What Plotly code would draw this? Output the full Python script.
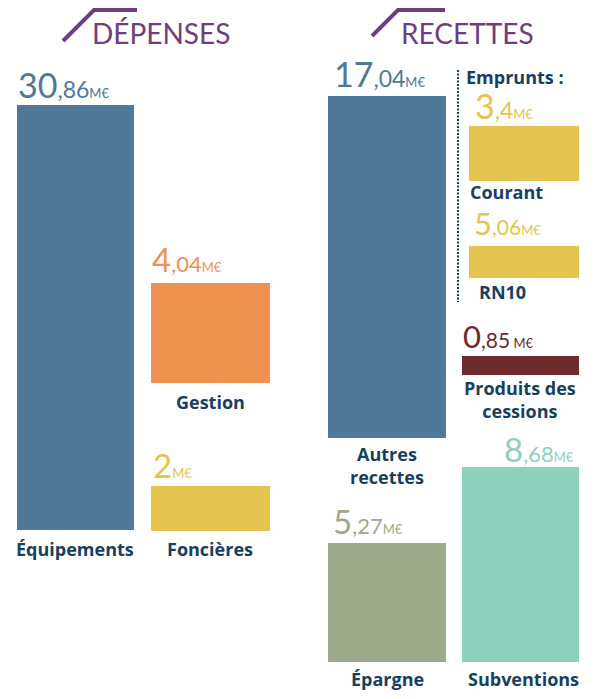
import plotly.graph_objects as go

W, H = 596, 699

# ---- data ----
dep_categories = ["Équipements", "Gestion", "Foncières"]
dep_values = [30.86, 4.04, 2]
rec_categories = ["Autres recettes", "Courant", "RN10", "Produits des cessions", "Épargne", "Subventions"]
rec_values = [17.04, 3.4, 5.06, 0.85, 5.27, 8.68]
section_titles = ["DÉPENSES", "RECETTES"]
emprunts_title = "Emprunts :"
unit = "M€"

categories = dep_categories + rec_categories
values = dep_values + rec_values

# ---- layout (pixel boxes: left, right, top, bottom) ----
boxes = [
    (17, 134, 105, 530),
    (151, 270, 283, 383),
    (151, 270, 486, 531),
    (328, 446, 96, 438),
    (469, 579, 126, 181),
    (469, 579, 246, 278),
    (462, 579, 356, 375),
    (328, 446, 543, 662),
    (462, 579, 467, 662),
]
colors = ["#4f7899", "#f0924f", "#e4c44e", "#4f7899", "#e4c44e", "#e4c44e",
          "#6e2a2c", "#9caa8b", "#8fd0bc"]
label_colors = ["#4f7899", "#f0924f", "#e4c44e", "#4f7899", "#e4c44e", "#e4c44e",
                "#6e2a2c", "#9caa8b", "#8fd0bc"]
# value label: (x, baseline y, xanchor)
val_pos = [
    (17, 97, "left"), (151, 271, "left"), (152, 477, "left"),
    (333, 86, "left"), (474, 118, "left"), (473, 234, "left"),
    (462, 347, "left"), (332, 533, "left"), (575, 461, "right"),
]
val_sizes = [(34, 23, 13), (33, 22, 13), (33, 22, 13), (34, 23, 13), (34, 23, 13),
             (31, 21, 13), (31, 21, 13), (33, 22, 13), (33, 22, 13)]
# category label: (x, center y, xanchor)
cat_pos = [
    (75, 549, "center"), (210, 402, "center"), (210, 549, "center"),
    (387, 465, "center"), (468, 192, "left"), (477, 292, "left"),
    (520, 399.5, "center"), (387, 679, "center"), (523, 679, "center"),
]
cat_text = {
    "Autres recettes": "Autres<br>recettes",
    "Produits des cessions": "Produits des<br>cessions",
}

NAVY = "#16405f"
PURPLE = "#6e3f7c"
LABEL_FONT = "Open Sans"
LABEL_SIZE = 18


def fx(x):
    return x / W


def fy(y):
    return 1 - y / H


fig = go.Figure()
annotations = []

for i, (cat, val) in enumerate(zip(categories, values)):
    n = "" if i == 0 else str(i + 1)
    l, r, t, b = boxes[i]
    fig.add_trace(go.Bar(
        x=[cat], y=[val], width=[1],
        marker=dict(color=colors[i], line=dict(width=0)),
        xaxis="x" + n, yaxis="y" + n, showlegend=False, hoverinfo="x+y",
    ))
    fig.update_layout(**{
        "xaxis" + n: dict(domain=[fx(l), fx(r)], visible=False, range=[-0.5, 0.5],
                          anchor="y" + n, fixedrange=True),
        "yaxis" + n: dict(domain=[fy(b), fy(t)], visible=False, range=[0, val],
                          anchor="x" + n, fixedrange=True),
    })

    # value label
    s = f"{val:g}"
    ip, _, dp = s.partition(".")
    big, mid, small = val_sizes[i]
    txt = f'<span style="font-size:{big}px">{ip}</span>'
    if dp:
        txt += f'<span style="font-size:{mid}px">,{dp}</span>'
    sep = " " if cat == "Produits des cessions" else ""
    txt += f'<span style="font-size:{small}px">{sep}{unit}</span>'
    vx, vy, va = val_pos[i]
    annotations.append(dict(
        text=txt, x=fx(vx), y=fy(vy + 9), xref="paper", yref="paper",
        xanchor=va, yanchor="bottom", showarrow=False, borderpad=0,
        font=dict(family="Lato", size=big, color=label_colors[i]),
    ))

    # category label
    lab = cat_text.get(cat, cat)
    cx, cy, ca = cat_pos[i]
    annotations.append(dict(
        text=f"<b>{lab}</b>", x=fx(cx), y=fy(cy), xref="paper", yref="paper",
        xanchor=ca, yanchor="middle", showarrow=False, align="center",
        font=dict(family=LABEL_FONT, size=LABEL_SIZE, color=NAVY),
    ))

# section titles
annotations.append(dict(text=section_titles[0], x=fx(160.5), y=fy(33), xref="paper", yref="paper",
                        xanchor="center", yanchor="middle", showarrow=False,
                        font=dict(family="Lato", size=28, color=PURPLE)))
annotations.append(dict(text=section_titles[1], x=fx(467.5), y=fy(33), xref="paper", yref="paper",
                        xanchor="center", yanchor="middle", showarrow=False,
                        font=dict(family="Lato", size=28, color=PURPLE)))
annotations.append(dict(text=f"<b>{emprunts_title}</b>", x=fx(464), y=fy(77), xref="paper", yref="paper",
                        xanchor="left", yanchor="middle", showarrow=False,
                        font=dict(family=LABEL_FONT, size=LABEL_SIZE, color=NAVY)))

shapes = [
    dict(type="path", xref="paper", yref="paper",
         path=f"M {fx(63)},{fy(41)} L {fx(94)},{fy(10)} L {fx(137)},{fy(10)}",
         line=dict(color=PURPLE, width=4)),
    dict(type="path", xref="paper", yref="paper",
         path=f"M {fx(372)},{fy(36)} L {fx(398)},{fy(10)} L {fx(445)},{fy(10)}",
         line=dict(color=PURPLE, width=4)),
    dict(type="line", xref="paper", yref="paper", x0=fx(458), x1=fx(458), y0=fy(70), y1=fy(302),
         line=dict(color=NAVY, width=2, dash="2px,1.5px")),
]

fig.update_layout(
    width=W, height=H, margin=dict(l=0, r=0, t=0, b=0),
    paper_bgcolor="white", plot_bgcolor="rgba(0,0,0,0)",
    annotations=annotations, shapes=shapes, showlegend=False,
    font=dict(family="Lato"),
)

fig.write_html("out.html", config={"displayModeBar": False},
               post_script="document.body.style.margin='0';document.body.style.overflow='hidden';")
